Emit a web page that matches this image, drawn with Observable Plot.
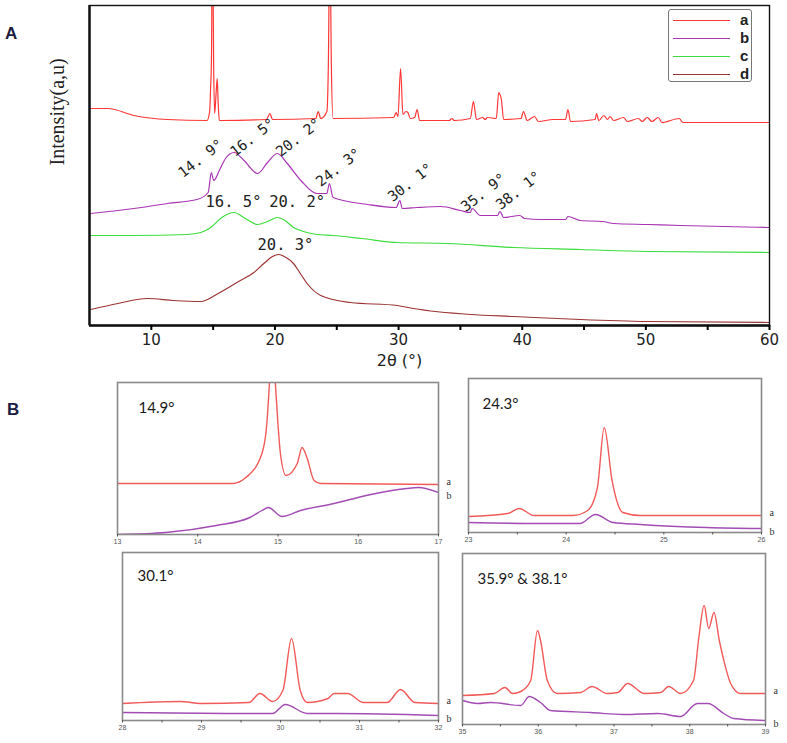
<!DOCTYPE html>
<html><head><meta charset="utf-8">
<script src="https://cdn.jsdelivr.net/npm/d3@7"></script>
<script src="https://cdn.jsdelivr.net/npm/@observablehq/plot@0.6"></script>
<style>
body{margin:0;background:#fff;}
#root{position:relative;width:787px;height:743px;overflow:hidden;background:#fff;font-family:"Liberation Sans",Arial,sans-serif;}
.slot{position:absolute;}
.plabel{position:absolute;font-weight:bold;font-size:17px;line-height:17px;color:#1c1c40;font-family:"Liberation Sans",Arial,sans-serif;}
#legend{position:absolute;left:668px;top:9px;width:84px;height:73px;border:1.5px solid #777;border-radius:3px;box-sizing:border-box;background:#fff;}
#legend .row{position:absolute;left:4px;height:14px;width:76px;}
#legend .ln{position:absolute;left:0;top:7px;width:57px;height:0;border-top:1.5px solid;}
#legend .tx{position:absolute;left:67px;top:0px;line-height:14px;font-weight:bold;font-size:15px;color:#222;font-family:"Liberation Sans",Arial,sans-serif;}
</style></head><body><div id="root">
<div class="plabel" style="left:5px;top:25px;">A</div>
<div class="plabel" style="left:7px;top:401px;">B</div>
<div id="legend"></div>
</div>
<script>
// ---------- Panel A data: 2θ (deg), intensity (a.u.) ----------
const seriesNames = ["a", "b", "c", "d"];
const seriesColors = ["#ff3636", "#a834b4", "#3ddc3d", "#9c3434"];

const traceA_a = [[5.1,217],[6.5,217],[8.6,210],[11.3,206],[14.5,205],[14.72,214],[14.8,239],[14.86,262],[14.95,400],[15.04,262],[15.12,212],[15.24,232],[15.33,247],[15.41,222],[15.5,205],[19.3,206],[19.6,212],[19.8,206],[23.3,207],[23.5,214],[23.7,207],[24.2,214],[24.32,262],[24.44,400],[24.56,262],[24.7,207],[29.6,208],[29.8,213],[29.95,209],[30.16,257],[30.35,211],[30.6,214],[30.75,213],[30.95,207],[31.3,208],[31.5,216],[31.7,205],[34.1,205],[34.3,207],[34.5,205],[35.8,207],[36.05,224],[36.3,206],[36.8,208],[37.0,206],[37.2,208],[37.9,207],[38.1,233],[38.2,231],[38.3,227],[38.5,206],[39.9,207],[40.1,214],[40.4,205],[41.0,209],[41.3,204],[42.5,206],[43.5,206],[43.7,216],[43.9,204],[45.9,206],[46.0,212],[46.2,205],[46.6,210],[46.9,206],[47.1,209],[47.4,205],[48.2,208],[48.5,204],[49.4,207],[49.7,204],[50.1,208],[50.5,204],[51.0,208],[51.3,203],[52.7,207],[53.0,203],[60,203]];
const traceA_b = [[5.1,112],[8.6,117],[11.3,122],[13.7,126],[14.6,133],[14.85,153],[15.05,145],[15.5,155],[16.0,167],[16.7,173],[17.5,165],[18.6,152],[19.4,163],[20.2,172],[21.0,162],[22.1,145],[23.4,132],[24.2,132],[24.4,142],[24.7,128],[27.5,121],[29.8,118],[30.1,125],[30.3,117],[31.5,118],[33.4,119],[35.0,115],[35.8,113],[35.95,117],[36.6,110],[38.0,110],[38.2,114],[38.5,108],[39.8,110],[40.2,107],[41.5,106],[43.5,106],[43.7,109],[44.7,105],[46.5,104],[47.4,102],[50.1,101],[52.8,100],[60,98]];
const traceA_c = [[5.1,90],[8.6,90],[12.9,91],[14.0,93],[14.8,98],[15.7,108],[16.7,113],[17.6,107],[18.6,101],[19.4,104],[20.2,108],[20.8,105],[21.5,98],[22.3,94],[23.4,91],[24.7,90],[27,87],[29.9,83],[34,82],[39.3,78],[44.7,76],[50.1,74],[60,73]];
const traceA_d = [[5.1,16],[7.3,22],[9.7,27],[11.8,25],[14.0,24],[15.4,32],[17.2,45],[18.3,53],[19.1,62],[19.8,69],[20.3,71],[20.9,68],[21.5,62],[22.0,53],[22.6,42],[23.7,30],[26.1,23],[29.9,20],[31.2,17],[35.8,11],[39.3,9],[44.7,6],[50.1,4],[60,3]];

const xTicksA = [10, 20, 30, 40, 50, 60];
const xMinorTicksA = [15, 25, 35, 45, 55];
// peak annotations (text, 2θ, intensity)
const rotLabels = ["14. 9°", "16. 5°", "20. 2°", "24. 3°", "30. 1°", "35. 9°", "38. 1°"];
const rotLabelX = [14.0, 18.2, 21.9, 25.15, 30.96, 36.87, 39.7];
const rotLabelY = [167, 188, 188, 158, 143, 133, 135];
const flatLabels = ["16. 5°", "20. 2°", "20. 3°"];
const flatLabelX = [16.65, 21.8, 20.85];
const flatLabelY = [123, 123, 80];

// ---------- Panel B data ----------
const b1_a = [[13,51],[14.43,51],[14.6,57],[14.8,81],[14.86,110],[14.9,160],[14.93,200],[14.96,160],[15.0,110],[15.03,81],[15.1,59],[15.24,71],[15.3,87],[15.36,77],[15.45,54],[15.53,51],[17,50]];
const b1_b = [[13,0],[13.6,2],[14.23,9],[14.65,17],[14.8,24],[14.88,27],[15.05,18],[15.28,24],[15.7,31],[16.1,39],[16.6,46],[16.75,47],[17,42]];
const b2_a = [[23,16],[23.4,19],[23.52,24],[23.67,17],[24.07,17],[24.22,22],[24.32,45],[24.39,105],[24.47,52],[24.58,20],[24.76,17],[26,17]];
const b2_b = [[23,10],[23.74,9],[24.14,9],[24.3,18],[24.48,10],[24.76,8],[25.44,5],[26,4]];
const b3_a = [[28,17],[28.73,19],[29,17],[29.6,18],[29.74,27],[29.9,19],[30.03,30],[30.14,82],[30.25,30],[30.34,18],[30.6,22],[30.68,27],[30.85,27],[31.05,18],[31.35,18],[31.52,31],[31.7,18],[32,17]];
const b3_b = [[28,8],[29.4,7],[29.9,7],[30.06,16],[30.34,7],[30.7,7],[32,5]];
const b4_a = [[35,29],[35.42,31],[35.56,37],[35.66,31],[35.77,33],[35.9,44],[35.99,94],[36.03,84],[36.12,44],[36.25,31],[36.56,32],[36.71,38],[36.91,31],[37.05,32],[37.18,41],[37.4,31],[37.62,32],[37.72,38],[37.88,31],[38.05,44],[38.12,87],[38.19,119],[38.25,96],[38.32,112],[38.39,84],[38.45,64],[38.54,41],[38.67,31],[39,31]];
const b4_b = [[35,24],[35.2,21],[35.37,22],[35.77,19],[35.88,28],[36.03,22],[36.16,14],[36.69,12],[37.13,10],[37.58,11],[37.88,8],[38.1,21],[38.24,21],[38.45,11],[38.58,6],[39,4]];
const subTitles = ["14.9°", "24.3°", "30.1°", "35.9° & 38.1°"];
const subDomains = [[13,17],[23,26],[28,32],[35,39]];
const subTicks = [[13,14,15,16,17],[23,23.5,24,24.5,25,25.5,26],[28,28.5,29,29.5,30,30.5,31,31.5,32],[35,35.5,36,36.5,37,37.5,38,38.5,39]];

const root = document.getElementById("root");
function place(el, left, top) {
  const d = document.createElement("div");
  d.className = "slot";
  d.style.left = left + "px"; d.style.top = top + "px";
  d.appendChild(el); root.appendChild(d);
}

// ---------- Panel A ----------
const tracesA = [traceA_a, traceA_b, traceA_c, traceA_d];
const plotA = Plot.plot({
  width: 787, height: 380,
  marginLeft: 89, marginRight: 18, marginTop: 5, marginBottom: 55,
  style: {background: "transparent", fontFamily: "DejaVu Sans, sans-serif", overflow: "visible"},
  x: {domain: [5, 60]},
  y: {domain: [0, 320], axis: null},
  marks: [
    ...tracesA.map((t, i) => Plot.line(t, {x: d => d[0], y: d => d[1], stroke: seriesColors[i], strokeWidth: 1.2, curve: "monotone-x", clip: true})),
    Plot.frame({stroke: "#111", strokeWidth: 1.4}),
    Plot.ruleX([5], {stroke: "#111", strokeWidth: 2.4}),
    Plot.ruleY([0], {stroke: "#111", strokeWidth: 2.4}),
    Plot.axisX({ticks: xTicksA, tickSize: 5, tickPadding: 4, strokeWidth: 2, fontSize: 15, fill: "#222", label: null}),
    Plot.axisX({ticks: xMinorTicksA, tickSize: 5, tickFormat: () => "", strokeWidth: 2, label: null}),
    Plot.text(rotLabels, {x: (d, i) => rotLabelX[i], y: (d, i) => rotLabelY[i], text: d => d, rotate: -38, fontFamily: "DejaVu Sans Mono", fontSize: 14.5, fill: "#222"}),
    Plot.text(flatLabels, {x: (d, i) => flatLabelX[i], y: (d, i) => flatLabelY[i], text: d => d, fontFamily: "DejaVu Sans Mono", fontSize: 15.5, fill: "#222"}),
    Plot.text(["Intensity(a,u)"], {frameAnchor: "left", text: d => d, rotate: -90, dx: -32, fontFamily: "Liberation Serif", fontSize: 20, fill: "#222"}),
    Plot.text(["2θ (°)"], {frameAnchor: "bottom", text: d => d, dx: -30, dy: 40, fontFamily: "DejaVu Sans", fontSize: 16, fill: "#222"})
  ]
});
place(plotA, 0, 0);

// legend
const legend = document.getElementById("legend");
const rowTops = [3, 21, 39, 57];
seriesNames.forEach((n, i) => {
  const r = document.createElement("div"); r.className = "row"; r.style.top = rowTops[i] + "px";
  r.innerHTML = `<div class="ln" style="border-color:${seriesColors[i]}"></div><div class="tx">${n}</div>`;
  legend.appendChild(r);
});

// ---------- Panel B ----------
const subData = [[b1_a, b1_b], [b2_a, b2_b], [b3_a, b3_b], [b4_a, b4_b]];
const subLayout = [
  {left: 100, top: 372, width: 360, height: 180, mL: 17, mR: 22, mT: 10, mB: 18, fh: 152, tdx: 21, tdy: 20},
  {left: 450, top: 368, width: 337, height: 182, mL: 18, mR: 26, mT: 10, mB: 18, fh: 154, tdx: 14, tdy: 20},
  {left: 100, top: 542, width: 360, height: 198, mL: 22, mR: 22, mT: 10, mB: 20, fh: 168, tdx: 15, tdy: 18},
  {left: 450, top: 543, width: 337, height: 198, mL: 12, mR: 22, mT: 10, mB: 17, fh: 171, tdx: 15, tdy: 20}
];
const subColors = ["#f25a5a", "#a24cb4"];
const endNudge = [-3, 3];
subData.forEach((pair, k) => {
  const L = subLayout[k];
  const ends = pair.map((t, i) => ({x: t[t.length - 1][0], y: t[t.length - 1][1], n: seriesNames[i], i}));
  const p = Plot.plot({
    width: L.width, height: L.height,
    marginLeft: L.mL, marginRight: L.mR, marginTop: L.mT, marginBottom: L.mB,
    style: {background: "transparent", overflow: "visible"},
    x: {domain: subDomains[k]},
    y: {domain: [0, L.fh], axis: null},
    marks: [
      ...pair.map((t, i) => Plot.line(t, {x: d => d[0], y: d => d[1], stroke: subColors[i], strokeWidth: 1.4, curve: "monotone-x", clip: true})),
      Plot.frame({stroke: "#8a8a8a", strokeWidth: 1.6}),
      Plot.axisX({ticks: subTicks[k], tickSize: 2.5, tickPadding: 2, tickFormat: d => Number.isInteger(d) ? String(d) : "", fontSize: 7, fill: "#555", stroke: "#555", label: null, fontFamily: "Liberation Sans"}),
      Plot.text([subTitles[k]], {frameAnchor: "top-left", text: d => d, dx: L.tdx, dy: L.tdy, textAnchor: "start", fontFamily: "Lato", fontSize: 15, fill: "#1a1a1a"}),
      Plot.text(ends.filter(e => e.i === 0), {x: "x", y: "y", text: "n", dx: 8, dy: endNudge[0], textAnchor: "start", fontFamily: "Liberation Serif", fontSize: 10, fill: "#333"}),
      Plot.text(ends.filter(e => e.i === 1), {x: "x", y: "y", text: "n", dx: 8, dy: endNudge[1], textAnchor: "start", fontFamily: "Liberation Serif", fontSize: 10, fill: "#333"})
    ]
  });
  place(p, L.left, L.top);
});
</script></body></html>
